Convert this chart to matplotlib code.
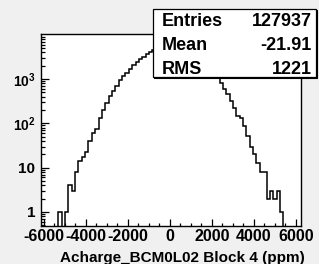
import numpy as np
import matplotlib
matplotlib.use("Agg")
import matplotlib.pyplot as plt
from matplotlib.ticker import MultipleLocator, LogLocator, NullFormatter
from matplotlib.patches import Rectangle

plt.rcParams['font.family'] = ['Liberation Sans', 'DejaVu Sans']
plt.rcParams['font.weight'] = 'bold'
plt.rcParams['axes.unicode_minus'] = False
plt.rcParams['mathtext.fontset'] = 'custom'
plt.rcParams['mathtext.rm'] = 'Liberation Sans:bold'
plt.rcParams['mathtext.bf'] = 'Liberation Sans:bold'

# histogram (77 bins, 160 ppm wide)
bin_lo = -6120
bin_w = 160
counts = [0, 0, 0, 0, 0, 1, 0, 1, 4, 3,
          8, 14, 17, 23, 40, 62, 75, 130, 195, 285,
          410, 540, 700, 940, 1150, 1380, 1720, 2100, 2450, 2800,
          3200, 3650, 4100, 4500, 4850, 5150, 5400, 5550, 5600, 5500,
          5350, 5100, 4800, 4400, 4000, 3550, 3100, 2700, 2300, 1950,
          1600, 1300, 1050, 800, 600, 450, 320, 220, 150, 130,
          85, 52, 30, 20, 13, 8, 8, 2, 3, 2,
          3, 1, 0, 0, 0, 0, 0]
stat_names = ['Entries', 'Mean', 'RMS']
stat_values = ['127937', '-21.91', '1221']
x_title = 'Acharge_BCM0L02 Block 4 (ppm)'
y_ticks = [1, 10, 100, 1000]
y_labels = ['1', '10', r'$10^{2}$', r'$10^{3}$']

W, H = 319, 264
fig = plt.figure(figsize=(W / 100, H / 100), dpi=100)
fig.patch.set_facecolor('#f0f0f0')

def fx(px):
    return px / W

def fy(py):
    return 1 - py / H

ax = fig.add_axes([fx(41), fy(226), fx(301) - fx(41), fy(34) - fy(226)])
ax.set_facecolor('white')

counts = np.array(counts, dtype=float)
edges = bin_lo + bin_w * np.arange(len(counts) + 1)
ymin = 0.483
draw = np.where(counts > 0, counts, 0.01)
ax.stairs(draw, edges, baseline=0.01, color='black', lw=1.1)

ax.set_yscale('log')
ax.set_xlim(-6140, 6240)
ax.set_ylim(ymin, 10360)

ax.xaxis.set_major_locator(MultipleLocator(2000))
ax.xaxis.set_minor_locator(MultipleLocator(500))
ax.set_yticks(y_ticks)
ax.set_yticklabels(y_labels)
ax.yaxis.set_minor_locator(LogLocator(base=10, subs=np.arange(2, 10), numticks=30))
ax.yaxis.set_minor_formatter(NullFormatter())

ax.tick_params(axis='x', which='major', direction='in', length=5, width=0.9,
               pad=2, labelsize=11.5)
ax.tick_params(axis='x', which='minor', direction='in', length=2.5, width=0.9)
ax.tick_params(axis='y', which='major', direction='in', length=5.8, width=0.9,
               pad=4, labelsize=11)
ax.tick_params(axis='y', which='minor', direction='in', length=2.8, width=0.9)
for lab in ax.get_yticklabels()[2:]:
    lab.set_fontsize(10)
for s in ax.spines.values():
    s.set_linewidth(1.0)

fig.text(fx(305), fy(258), x_title, ha='right', va='center', fontsize=11,
         fontweight='bold')

# stats box
bx0, bx1, by0, by1 = 152.7, 315.7, 9.3, 77.3
fig.patches.append(Rectangle((fx(bx0) + fx(1.0), fy(by1) - 1.0 / H),
                             fx(bx1 - bx0), fy(by0) - fy(by1),
                             transform=fig.transFigure, facecolor='black',
                             edgecolor='black', lw=0.8, zorder=5))
fig.patches.append(Rectangle((fx(bx0), fy(by1)), fx(bx1 - bx0), fy(by0) - fy(by1),
                             transform=fig.transFigure, facecolor='white',
                             edgecolor='black', lw=0.9, zorder=6))
for i, (n, v) in enumerate(zip(stat_names, stat_values)):
    yy = fy(21.5 + 24 * i)
    fig.text(fx(161.5), yy, n, ha='left', va='center', fontsize=13,
             fontweight='bold', zorder=7)
    fig.text(fx(311.5), yy, v, ha='right', va='center', fontsize=13,
             fontweight='bold', zorder=7)

fig.savefig('out.png', dpi=100, facecolor=fig.get_facecolor())
